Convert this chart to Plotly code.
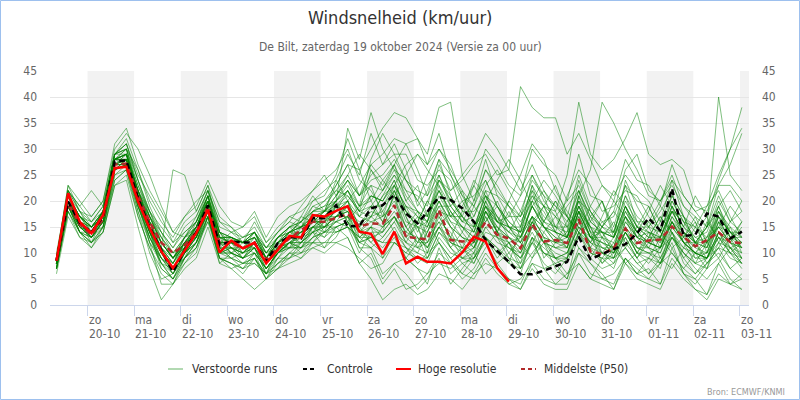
import pandas as pd
import plotly.graph_objects as go

# ---------------- data ----------------
# 6-hourly steps starting 19-10-2024 06 UTC
n_steps = 60
start_utc = "2024-10-19 06:00"

hires = [8.5, 21.5, 16.0, 13.8, 17.3, 26.3, 26.6, 19.9, 14.8, 10.3,
         7.1, 10.5, 13.8, 18.3, 10.1, 12.4, 10.9, 12.0, 8.0, 10.6,
         13.3, 13.0, 17.3, 17.0, 18.1, 19.0, 14.1, 13.7, 9.8, 14.1,
         8.0, 9.3, 8.3, 8.3, 8.0, 10.1, 13.1, 12.2, 7.1, 4.5]

control = [8.5, 19.9, 15.8, 14.0, 17.0, 27.6, 27.8, 20.5, 15.0, 10.5,
           6.4, 10.5, 14.0, 19.2, 11.5, 12.2, 12.0, 12.0, 8.3, 11.9,
           13.1, 12.8, 16.7, 16.7, 19.2, 15.1, 15.2, 18.6, 19.2, 21.2,
           17.6, 15.7, 17.9, 20.8, 20.2, 18.6, 16.0, 12.5, 10.4, 8.3,
           5.9, 5.9, 6.6, 7.4, 8.3, 13.1, 8.8, 9.8, 10.8, 11.7,
           13.8, 16.7, 14.3, 22.4, 13.3, 13.5, 17.6, 17.0, 12.8, 14.1]

p50 = [8.5, 19.5, 15.5, 13.5, 16.5, 27.0, 27.2, 21.0, 16.0, 12.0,
       10.0, 11.5, 14.0, 19.0, 12.0, 12.0, 10.9, 11.9, 8.7, 11.0,
       12.8, 14.4, 16.0, 16.0, 16.7, 17.5, 15.1, 15.7, 15.6, 19.2,
       13.1, 12.8, 12.6, 18.3, 12.5, 12.2, 12.5, 16.0, 13.5, 12.8,
       10.9, 15.6, 12.2, 12.5, 11.9, 16.5, 10.3, 9.8, 10.9, 14.7,
       11.9, 12.4, 12.6, 15.1, 13.1, 11.3, 12.5, 14.0, 12.1, 11.9]

run01 = [8, 21, 16, 13, 16, 27, 29, 23, 18, 12, 9, 12, 15, 20, 14, 11, 9, 12, 7, 10, 13, 17, 21, 18, 24, 29, 25, 33, 27, 31, 26, 19, 22, 28, 21, 17, 23, 19, 14, 18, 13, 17, 9, 12, 16, 20, 14, 8, 11, 15, 10, 13, 17, 14, 9, 12, 8, 11, 15, 10]
run02 = [7, 18, 13, 12, 14, 24, 26, 17, 11, 7, 5, 8, 10, 17, 9, 8, 6, 9, 5, 7, 10, 9, 12, 11, 15, 13, 8, 10, 5, 8, 6, 3, 5, 9, 4, 7, 10, 6, 8, 5, 4, 9, 12, 7, 5, 11, 8, 6, 3, 9, 7, 5, 8, 12, 6, 4, 7, 9, 5, 3]
run03 = [9, 20, 17, 15, 18, 28, 27, 20, 16, 13, 10, 11, 16, 21, 11, 13, 12, 14, 9, 13, 15, 13, 18, 20, 22, 21, 18, 26, 22, 27, 20, 23, 17, 25, 19, 22, 15, 21, 17, 14, 18, 24, 21, 15, 19, 22, 17, 20, 13, 24, 19, 15, 18, 22, 13, 16, 10, 17, 12, 15]
run04 = [8, 19, 15, 14, 15, 26, 28, 19, 13, 8, 7, 9, 14, 17, 10, 12, 9, 11, 6, 11, 11, 13, 14, 16, 18, 20, 13, 15, 9, 14, 11, 8, 10, 12, 9, 6, 9, 13, 11, 8, 15, 20, 18, 14, 21, 26, 23, 18, 19, 22, 21, 17, 14, 20, 16, 15, 11, 18, 14, 13]
run05 = [10, 22, 19, 22, 19, 29, 31, 25, 21, 17, 12, 16, 18, 23, 17, 15, 12, 16, 12, 15, 17, 16, 20, 21, 25, 32, 26, 20, 16, 21, 13, 15, 10, 18, 12, 11, 8, 13, 9, 12, 7, 12, 10, 8, 9, 14, 12, 15, 18, 26, 29, 22, 20, 25, 19, 17, 15, 21, 16, 18]
run06 = [7, 20, 16, 12, 17, 26, 28, 22, 14, 7, 5, 10, 12, 17, 8, 10, 8, 9, 5, 8, 10, 12, 12, 15, 15, 16, 14, 17, 21, 23, 27, 29, 27, 33, 25, 20, 21, 24, 19, 16, 14, 22, 15, 13, 11, 18, 15, 10, 8, 14, 10, 8, 11, 13, 9, 6, 8, 10, 7, 9]
run07 = [9, 22, 16, 14, 18, 28, 30, 21, 17, 14, 10, 13, 15, 21, 13, 13, 11, 13, 9, 13, 14, 15, 16, 15, 19, 16, 11, 11, 6, 8, 9, 7, 4, 11, 6, 8, 9, 13, 10, 12, 8, 16, 12, 9, 10, 15, 13, 16, 17, 23, 20, 19, 14, 21, 17, 12, 15, 23, 27, 33]
run08 = [8, 20, 17, 15, 17, 27, 27, 21, 15, 11, 7, 12, 13, 19, 12, 10, 12, 11, 8, 12, 13, 14, 16, 18, 18, 22, 17, 21, 20, 24, 18, 15, 16, 20, 16, 15, 12, 20, 14, 13, 12, 16, 14, 11, 12, 18, 10, 9, 7, 13, 9, 6, 8, 10, 7, 10, 12, 15, 12, 16]
run09 = [8, 19, 14, 13, 16, 26, 28, 19, 14, 11, 26, 25, 18, 23, 14, 11, 11, 10, 7, 10, 12, 11, 15, 13, 17, 19, 14, 13, 12, 12, 11, 10, 14, 18, 17, 19, 23, 30, 27, 23, 21, 25, 20, 17, 13, 21, 14, 14, 10, 17, 11, 11, 8, 15, 12, 8, 9, 12, 11, 8]
run10 = [9, 23, 18, 17, 20, 31, 34, 27, 22, 18, 14, 13, 17, 22, 16, 15, 13, 15, 11, 14, 16, 15, 19, 18, 23, 27, 21, 25, 27, 29, 29, 24, 23, 26, 24, 18, 18, 21, 19, 15, 14, 17, 15, 12, 13, 19, 13, 14, 14, 21, 15, 15, 11, 19, 12, 12, 9, 16, 11, 12]
run11 = [7, 18, 14, 11, 15, 24, 26, 18, 10, 5, 6, 9, 11, 16, 11, 9, 7, 10, 5, 9, 9, 11, 12, 14, 14, 15, 10, 14, 14, 22, 16, 15, 11, 17, 13, 9, 10, 14, 13, 9, 6, 13, 7, 8, 5, 14, 9, 7, 8, 11, 8, 9, 7, 14, 8, 6, 9, 11, 10, 7]
run12 = [8, 21, 17, 14, 18, 28, 29, 22, 16, 10, 8, 13, 14, 21, 12, 13, 10, 12, 10, 11, 14, 13, 17, 15, 16, 17, 11, 9, 4, 7, 3, 4, 6, 8, 7, 9, 11, 15, 15, 12, 13, 17, 15, 12, 14, 20, 18, 15, 20, 28, 24, 23, 19, 27, 21, 18, 19, 25, 30, 34]
run13 = [9, 21, 18, 14, 17, 28, 29, 22, 15, 12, 9, 11, 15, 20, 13, 12, 11, 14, 9, 12, 14, 16, 18, 19, 20, 24, 21, 27, 29, 32, 31, 32, 29, 38, 39, 25, 20, 28, 21, 19, 15, 23, 16, 14, 13, 19, 15, 11, 11, 14, 10, 10, 8, 13, 11, 10, 7, 14, 10, 8]
run14 = [8, 20, 16, 13, 17, 27, 28, 20, 13, 9, 7, 10, 12, 18, 12, 10, 11, 11, 6, 10, 12, 13, 15, 17, 17, 20, 15, 19, 16, 21, 15, 12, 15, 19, 19, 16, 17, 22, 21, 17, 17, 22, 19, 15, 15, 18, 13, 13, 11, 19, 13, 14, 12, 16, 14, 9, 10, 13, 12, 9]
run15 = [8, 19, 15, 14, 16, 26, 27, 18, 12, 8, 5, 9, 11, 17, 9, 7, 8, 8, 6, 7, 9, 10, 11, 12, 12, 13, 8, 5, 1, 3, 4, 2, 3, 6, 5, 3, 6, 8, 7, 4, 5, 8, 7, 4, 6, 10, 8, 5, 6, 9, 6, 7, 4, 11, 6, 5, 2, 8, 4, 6]
run16 = [9, 21, 17, 16, 18, 29, 30, 24, 17, 12, 9, 13, 16, 21, 13, 13, 12, 13, 11, 12, 15, 15, 16, 18, 19, 20, 15, 18, 17, 23, 19, 18, 16, 23, 17, 17, 14, 22, 16, 17, 21, 30, 27, 25, 20, 29, 21, 20, 15, 23, 16, 16, 13, 18, 16, 12, 13, 15, 14, 11]
run17 = [8, 20, 16, 15, 17, 28, 29, 21, 15, 11, 8, 12, 13, 19, 12, 12, 10, 12, 8, 11, 13, 15, 16, 16, 20, 22, 19, 20, 24, 27, 22, 21, 19, 27, 22, 24, 27, 29, 25, 26, 42, 38, 36, 36, 29, 33, 28, 23, 21, 25, 22, 20, 16, 24, 17, 15, 13, 19, 14, 14]
run18 = [7, 19, 14, 13, 16, 26, 27, 20, 14, 10, 6, 10, 12, 18, 10, 11, 9, 10, 7, 10, 12, 11, 14, 15, 17, 18, 16, 17, 21, 25, 22, 18, 17, 24, 21, 16, 15, 19, 17, 13, 10, 15, 12, 10, 9, 21, 26, 39, 35, 30, 26, 21, 20, 23, 19, 16, 12, 19, 13, 13]
run19 = [9, 20, 16, 14, 17, 27, 28, 21, 16, 10, 7, 11, 14, 19, 12, 11, 10, 12, 8, 11, 13, 12, 15, 14, 16, 15, 13, 13, 14, 17, 14, 13, 11, 15, 13, 12, 10, 18, 14, 20, 17, 21, 19, 18, 25, 39, 29, 26, 28, 32, 37, 29, 27, 28, 26, 19, 18, 23, 23, 20]
run20 = [8, 20, 16, 14, 17, 27, 28, 22, 15, 10, 7, 11, 15, 19, 11, 11, 10, 12, 8, 11, 12, 14, 15, 16, 17, 19, 17, 16, 17, 19, 15, 12, 12, 16, 14, 10, 12, 17, 13, 12, 9, 13, 11, 9, 10, 15, 12, 11, 10, 16, 13, 12, 13, 18, 17, 14, 17, 24, 30, 38]
run21 = [8, 21, 16, 14, 17, 28, 29, 21, 16, 11, 8, 12, 14, 20, 12, 12, 11, 12, 9, 12, 13, 14, 16, 16, 18, 20, 17, 19, 22, 25, 20, 17, 15, 20, 16, 13, 12, 18, 14, 12, 10, 14, 10, 9, 8, 14, 10, 9, 9, 14, 11, 10, 11, 17, 14, 12, 15, 40, 25, 22]
run22 = [8, 20, 15, 13, 16, 26, 27, 20, 14, 10, 7, 10, 13, 18, 10, 10, 9, 10, 7, 10, 12, 12, 14, 15, 17, 17, 13, 15, 14, 17, 12, 10, 9, 14, 11, 9, 9, 15, 12, 11, 9, 15, 12, 11, 11, 18, 13, 12, 11, 18, 14, 12, 11, 17, 13, 11, 10, 16, 13, 11]
run23 = [9, 21, 17, 15, 18, 29, 30, 22, 16, 12, 9, 13, 15, 21, 14, 13, 12, 14, 10, 13, 15, 16, 19, 20, 23, 27, 26, 30, 34, 37, 36, 32, 27, 30, 26, 22, 19, 24, 19, 16, 14, 19, 15, 13, 12, 18, 13, 11, 10, 14, 11, 10, 9, 14, 11, 9, 9, 13, 10, 9]
run24 = [7, 19, 14, 12, 15, 25, 26, 19, 13, 8, 5, 9, 12, 17, 9, 9, 8, 9, 6, 9, 11, 11, 13, 14, 16, 17, 14, 16, 15, 17, 13, 16, 20, 24, 22, 25, 28, 33, 30, 26, 22, 27, 22, 19, 16, 22, 16, 14, 13, 18, 14, 12, 11, 16, 12, 10, 9, 14, 12, 10]
run25 = [8, 20, 16, 14, 17, 28, 28, 21, 15, 11, 8, 11, 14, 19, 12, 12, 11, 12, 8, 11, 13, 13, 16, 16, 19, 21, 18, 19, 19, 22, 17, 13, 11, 15, 11, 8, 6, 10, 7, 5, 3, 8, 5, 4, 4, 10, 6, 5, 4, 9, 6, 5, 4, 9, 6, 3, 2, 6, 4, 3]
run26 = [9, 22, 18, 15, 18, 29, 31, 24, 18, 14, 11, 14, 16, 22, 14, 13, 12, 14, 10, 13, 14, 15, 18, 18, 21, 24, 21, 23, 22, 26, 21, 18, 16, 22, 18, 15, 13, 19, 16, 14, 12, 20, 16, 15, 14, 24, 18, 15, 14, 21, 17, 15, 14, 20, 16, 13, 14, 20, 16, 14]
run27 = [8, 19, 15, 13, 16, 27, 27, 20, 14, 9, 6, 10, 13, 18, 10, 10, 9, 11, 7, 10, 11, 12, 14, 13, 15, 16, 12, 11, 9, 12, 10, 9, 9, 14, 12, 11, 12, 18, 15, 13, 11, 17, 13, 12, 12, 19, 15, 14, 13, 19, 15, 13, 12, 18, 14, 12, 11, 17, 14, 12]
run28 = [7, 18, 14, 12, 14, 23, 24, 15, 7, 1, 4, 8, 11, 17, 9, 8, 7, 8, 6, 8, 10, 10, 12, 12, 14, 15, 12, 13, 12, 15, 11, 9, 8, 13, 10, 9, 8, 13, 10, 8, 7, 13, 10, 9, 9, 16, 12, 10, 9, 16, 13, 11, 10, 16, 12, 10, 9, 14, 11, 9]
run29 = [9, 21, 17, 14, 18, 28, 29, 22, 17, 12, 9, 12, 15, 20, 13, 12, 12, 13, 9, 12, 14, 15, 17, 17, 20, 22, 18, 21, 20, 24, 18, 15, 14, 19, 15, 13, 11, 17, 13, 11, 10, 16, 12, 11, 10, 16, 11, 10, 9, 14, 10, 9, 8, 13, 10, 8, 7, 12, 9, 8]
run30 = [8, 20, 16, 14, 17, 28, 28, 21, 15, 10, 7, 11, 14, 19, 11, 11, 10, 11, 8, 11, 12, 13, 15, 15, 17, 18, 15, 17, 18, 22, 18, 16, 15, 21, 17, 15, 14, 20, 16, 14, 13, 19, 15, 14, 13, 20, 15, 13, 12, 17, 13, 12, 11, 16, 12, 10, 9, 13, 11, 10]
run31 = [8, 21, 17, 15, 18, 28, 29, 22, 16, 11, 9, 12, 15, 20, 13, 12, 11, 12, 9, 12, 14, 14, 17, 18, 20, 34, 28, 37, 30, 26, 24, 20, 17, 22, 18, 15, 13, 19, 15, 13, 11, 17, 13, 12, 11, 18, 13, 12, 11, 17, 14, 12, 11, 16, 12, 10, 10, 15, 12, 11]
run32 = [7, 19, 15, 13, 16, 26, 27, 19, 13, 9, 6, 10, 13, 18, 10, 9, 8, 10, 7, 10, 11, 11, 13, 14, 15, 16, 12, 13, 11, 14, 9, 7, 6, 10, 8, 6, 5, 9, 6, 4, 3, 7, 4, 3, 3, 8, 5, 4, 3, 8, 5, 4, 3, 8, 5, 3, 1, 5, 4, 5]
run33 = [9, 22, 18, 16, 19, 29, 31, 24, 18, 13, 10, 13, 16, 21, 14, 13, 12, 14, 10, 13, 15, 16, 18, 19, 22, 25, 21, 24, 25, 28, 24, 22, 21, 28, 25, 21, 19, 26, 22, 19, 17, 25, 21, 19, 17, 25, 19, 16, 14, 20, 16, 14, 13, 19, 15, 13, 12, 18, 15, 13]
run34 = [8, 20, 15, 13, 17, 27, 27, 20, 14, 9, 7, 10, 13, 19, 11, 10, 9, 11, 8, 10, 12, 12, 15, 15, 17, 18, 14, 15, 13, 16, 12, 11, 12, 18, 15, 13, 12, 19, 16, 15, 14, 21, 17, 15, 13, 19, 14, 12, 10, 15, 12, 11, 10, 15, 12, 10, 9, 14, 12, 11]
run35 = [8, 20, 16, 14, 17, 28, 29, 22, 17, 12, 9, 12, 14, 20, 12, 12, 11, 12, 9, 12, 13, 14, 16, 17, 19, 22, 18, 17, 15, 17, 13, 11, 10, 15, 12, 10, 11, 18, 16, 15, 15, 23, 19, 17, 15, 22, 17, 15, 13, 19, 15, 14, 13, 19, 15, 12, 12, 17, 14, 12]
run36 = [9, 21, 16, 14, 18, 29, 30, 23, 17, 12, 9, 12, 15, 20, 13, 13, 12, 13, 9, 12, 14, 15, 17, 18, 20, 23, 19, 21, 20, 23, 19, 17, 16, 24, 20, 17, 15, 21, 17, 15, 13, 19, 15, 14, 13, 21, 16, 14, 13, 19, 15, 13, 13, 18, 14, 12, 11, 16, 13, 12]
run37 = [9, 23, 20, 17, 20, 30, 33, 30, 25, 19, 14, 17, 19, 24, 19, 16, 15, 17, 12, 14, 16, 19, 22, 24, 26, 30, 24, 22, 18, 14, 12, 16, 20, 17, 13, 18, 24, 21, 16, 20, 25, 31, 28, 22, 18, 15, 12, 17, 22, 19, 14, 18, 23, 19, 15, 21, 17, 12, 16, 20]
run38 = [6, 17, 13, 11, 14, 23, 25, 17, 11, 6, 4, 7, 9, 15, 8, 7, 5, 3, 5, 7, 8, 9, 11, 10, 12, 11, 9, 7, 8, 12, 10, 13, 9, 12, 8, 5, 7, 11, 14, 10, 7, 10, 13, 9, 6, 8, 5, 9, 12, 8, 6, 9, 13, 10, 7, 5, 8, 11, 7, 5]
run39 = [8, 20, 17, 15, 17, 28, 30, 26, 20, 16, 13, 17, 20, 22, 16, 14, 15, 18, 13, 17, 19, 20, 22, 25, 21, 24, 19, 28, 33, 29, 24, 20, 25, 30, 27, 21, 17, 23, 26, 22, 18, 15, 19, 23, 17, 13, 16, 20, 14, 11, 15, 19, 14, 11, 13, 17, 12, 9, 13, 16]
run40 = [8, 21, 15, 13, 15, 26, 27, 21, 17, 13, 9, 11, 13, 18, 12, 14, 12, 13, 10, 12, 11, 15, 17, 14, 19, 18, 12, 15, 19, 23, 17, 11, 14, 20, 15, 11, 9, 12, 8, 10, 13, 19, 22, 18, 13, 17, 11, 8, 10, 13, 9, 12, 16, 21, 17, 12, 15, 18, 13, 9]
run41 = [9, 20, 14, 14, 16, 27, 29, 20, 12, 9, 7, 9, 12, 19, 11, 9, 10, 13, 9, 11, 14, 16, 14, 17, 20, 16, 19, 23, 17, 20, 15, 18, 13, 16, 11, 14, 19, 16, 20, 15, 12, 9, 14, 17, 20, 23, 18, 14, 11, 8, 10, 14, 9, 7, 11, 15, 19, 22, 17, 13]
run42 = [7, 19, 16, 15, 18, 29, 29, 21, 14, 8, 6, 10, 15, 19, 10, 11, 10, 11, 7, 9, 12, 10, 13, 16, 14, 15, 13, 11, 13, 16, 19, 14, 18, 22, 17, 20, 16, 13, 11, 9, 8, 12, 16, 20, 15, 11, 9, 13, 16, 12, 9, 13, 17, 14, 10, 8, 12, 15, 19, 16]
run43 = [8, 22, 19, 16, 19, 29, 32, 26, 19, 14, 11, 15, 17, 22, 15, 14, 13, 14, 11, 14, 17, 18, 20, 22, 24, 20, 23, 27, 24, 21, 25, 29, 26, 23, 19, 16, 20, 26, 23, 19, 16, 20, 24, 21, 17, 14, 19, 23, 20, 17, 13, 16, 20, 24, 21, 18, 15, 19, 22, 18]
run44 = [8, 19, 14, 12, 15, 25, 27, 19, 12, 4, 4, 9, 12, 16, 9, 8, 7, 9, 6, 8, 9, 12, 14, 11, 13, 17, 15, 12, 10, 13, 9, 12, 16, 12, 9, 11, 15, 18, 14, 11, 9, 12, 8, 6, 9, 13, 17, 13, 9, 11, 8, 6, 9, 13, 10, 7, 5, 8, 11, 8]
run45 = [9, 21, 17, 15, 17, 28, 28, 22, 18, 15, 12, 14, 16, 20, 14, 12, 13, 14, 11, 13, 15, 17, 16, 18, 21, 25, 29, 26, 23, 27, 31, 26, 21, 25, 20, 17, 14, 20, 24, 28, 24, 19, 16, 20, 17, 14, 11, 15, 18, 15, 12, 15, 19, 16, 13, 10, 13, 17, 14, 11]
run46 = [8, 20, 15, 14, 18, 27, 28, 20, 14, 10, 8, 12, 13, 20, 13, 10, 9, 12, 8, 10, 12, 14, 15, 17, 16, 19, 14, 12, 15, 18, 14, 17, 12, 15, 18, 14, 11, 16, 19, 15, 12, 16, 19, 14, 11, 17, 13, 10, 13, 17, 14, 11, 15, 18, 14, 11, 16, 13, 10, 12]

ens_runs = [run01, run02, run03, run04, run05, run06, run07, run08, run09, run10,
            run11, run12, run13, run14, run15, run16, run17, run18, run19, run20,
            run21, run22, run23, run24, run25, run26, run27, run28, run29, run30,
            run31, run32, run33, run34, run35, run36, run37, run38, run39, run40,
            run41, run42, run43, run44, run45, run46]

day_names = ["zo", "ma", "di", "wo", "do", "vr", "za", "zo", "ma", "di", "wo", "do", "vr", "za", "zo"]
day_dates = ["20-10", "21-10", "22-10", "23-10", "24-10", "25-10", "26-10", "27-10",
             "28-10", "29-10", "30-10", "31-10", "01-11", "02-11", "03-11"]

for r in ens_runs:
    assert len(r) == n_steps, len(r)

# ---------------- time axis (local Dutch time) ----------------
t_utc = pd.date_range(start_utc, periods=n_steps, freq="6h")
dst_end = pd.Timestamp("2024-10-27 01:00")
times = [t + pd.Timedelta(hours=2) if t < dst_end else t + pd.Timedelta(hours=1) for t in t_utc]
days = pd.date_range("2024-10-20", periods=len(day_names), freq="D")
x_start = pd.Timestamp("2024-10-19 04:40")
x_end = pd.Timestamp("2024-11-03 04:40")

# ---------------- layout helpers ----------------
L, R, T, B = 50, 749, 71, 305
W, H = 800, 400


def px(xp):
    return (xp - L) / (R - L)


def py(yp):
    return (B - yp) / (B - T)


FONT = "DejaVu Sans Condensed, Open Sans, sans-serif"

fig = go.Figure()

for r in ens_runs:
    fig.add_trace(go.Scatter(x=times, y=r, mode="lines",
                             line=dict(color="rgba(0,128,0,0.5)", width=1),
                             showlegend=False, hoverinfo="skip"))

fig.add_trace(go.Scatter(x=times, y=p50, mode="lines", name="Middelste (P50)",
                         line=dict(color="#b22a2a", width=2.5, dash="6px,4px"), showlegend=False))
fig.add_trace(go.Scatter(x=times, y=control, mode="lines", name="Controle",
                         line=dict(color="#000000", width=2.5, dash="6px,4px"), showlegend=False))
fig.add_trace(go.Scatter(x=times[:len(hires)], y=hires, mode="lines", name="Hoge resolutie",
                         line=dict(color="#ff0000", width=2.5), showlegend=False))
fig.add_trace(go.Scatter(x=[times[0]], y=[None], yaxis="y2", showlegend=False, hoverinfo="skip"))

shapes = []
# alternating day bands
for k in range(0, len(days), 2):
    d0 = days[k]
    d1 = min(d0 + pd.Timedelta(days=1), x_end)
    shapes.append(dict(type="rect", xref="x", yref="paper", x0=d0, x1=d1, y0=0, y1=1,
                       fillcolor="#f2f2f2", line=dict(width=0), layer="below"))

# legend symbols
leg = [(168, 183, "rgba(0,128,0,0.3)", "solid", "Verstoorde runs", 190),
       (303, 317, "#000000", "4px,3px", "Controle", 325),
       (396, 411, "#ff0000", "solid", "Hoge resolutie", 416),
       (521, 536, "#b22a2a", "4px,3px", "Middelste (P50)", 542)]
annotations = []
for x0, x1, col, dash, txt, tx in leg:
    shapes.append(dict(type="line", xref="paper", yref="paper", x0=px(x0), x1=px(x1),
                       y0=py(369), y1=py(369), line=dict(color=col, width=2, dash=dash)))
    annotations.append(dict(xref="paper", yref="paper", x=px(tx), y=py(369), xanchor="left",
                            yanchor="middle", showarrow=False, text=txt,
                            font=dict(family=FONT, size=12, color="#333333")))

# outer border
shapes.append(dict(type="rect", xref="paper", yref="paper", x0=px(0.5), x1=px(799.5),
                   y0=py(399.5), y1=py(0.5), line=dict(color="#9dc0ee", width=1)))

# day tick labels
for d, nm, dt in zip(days, day_names, day_dates):
    annotations.append(dict(xref="x", yref="paper", x=d, y=py(320), xanchor="left", yanchor="middle",
                            showarrow=False, text=nm, xshift=-1,
                            font=dict(family=FONT, size=12, color="#666666")))
    annotations.append(dict(xref="x", yref="paper", x=d, y=py(334), xanchor="left", yanchor="middle",
                            showarrow=False, text=dt, xshift=-1,
                            font=dict(family=FONT, size=12, color="#666666")))

annotations.append(dict(xref="paper", yref="paper", x=px(400), y=py(18), xanchor="center", yanchor="middle",
                        showarrow=False, text="Windsnelheid (km/uur)",
                        font=dict(family=FONT, size=18, color="#333333")))
annotations.append(dict(xref="paper", yref="paper", x=px(400), y=py(47), xanchor="center", yanchor="middle",
                        showarrow=False, text="De Bilt, zaterdag 19 oktober 2024 (Versie za 00 uur)",
                        font=dict(family=FONT, size=12, color="#666666")))
annotations.append(dict(xref="paper", yref="paper", x=px(787), y=py(392), xanchor="right", yanchor="middle",
                        showarrow=False, text="Bron: ECMWF/KNMI",
                        font=dict(family=FONT, size=9, color="#999999")))

yt = list(range(0, 50, 5))
fig.update_layout(
    width=W, height=H,
    margin=dict(l=L, r=W - R, t=T, b=H - B, pad=0),
    paper_bgcolor="white", plot_bgcolor="white",
    font=dict(family=FONT, size=11, color="#666666"),
    showlegend=False,
    xaxis=dict(type="date", range=[x_start, x_end], tickvals=list(days), ticktext=[""] * len(days),
               ticks="outside", ticklen=10, tickcolor="#ccd6eb", showgrid=False, zeroline=False,
               showline=True, linecolor="#ccd6eb", linewidth=1),
    yaxis=dict(range=[0, 45], tickvals=yt, showgrid=True, gridcolor="#e6e6e6", gridwidth=1,
               zeroline=False, ticks="", ticklabelstandoff=12,
               tickfont=dict(family=FONT, size=12, color="#666666")),
    yaxis2=dict(range=[0, 45], tickvals=yt, overlaying="y", side="right", showgrid=False,
                zeroline=False, ticks="", ticklabelstandoff=12,
                tickfont=dict(family=FONT, size=12, color="#666666")),
    shapes=shapes,
    annotations=annotations,
)

fig.write_html("out.html")
